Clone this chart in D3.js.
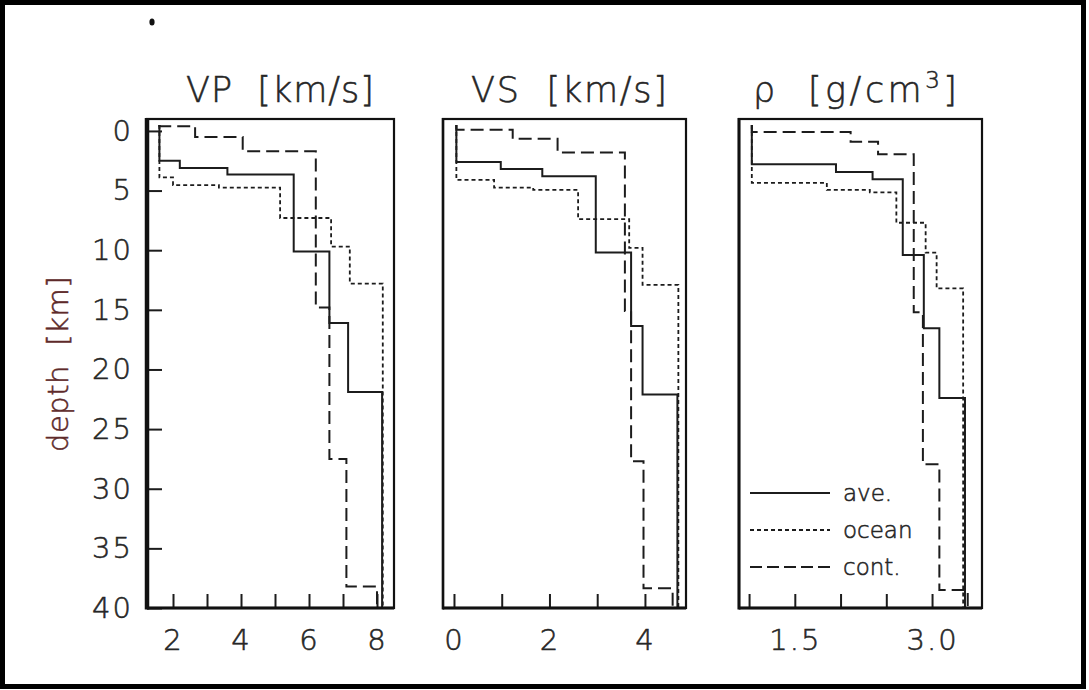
<!DOCTYPE html>
<html>
<head>
<meta charset="utf-8">
<script src="https://cdn.jsdelivr.net/npm/d3@7"></script>
<style>
  html, body { margin: 0; padding: 0; background: #fff; }
  svg { display: block; }
  .lbl { font-family: "DejaVu Sans", sans-serif; font-weight: 200; fill: #262626; stroke: #262626; stroke-width: 0.55px; }
</style>
</head>
<body>
<svg id="chart" width="1089" height="690"></svg>
<script>
// ---- depth axis (shared by all three panels) ----
const depthDomain = [-1, 40];
const depthTicks = [0, 5, 10, 15, 20, 25, 30, 35, 40];
const surfaceDepth = -0.5;
const bottomDepth = 40;

// ---- panel titles and x ticks ----
const panelTitles = ["VP  [km/s]", "VS  [km/s]", "ρ  [g/cm"];
const vpTicks = [2, 3, 4, 5, 6, 7, 8];
const vpTickLabels = [2, 4, 6, 8];
const vsTicks = [0, 1, 2, 3, 4];
const vsTickLabels = [0, 2, 4];
const rhoTicks = [1.0, 1.5, 2.0, 2.5, 3.0];
const rhoTickLabels = [1.5, 3.0];

// ---- layered profiles: interface depths [km] and layer values (one more value than interfaces) ----
// P-wave velocity [km/s]
const vpAveDepth   = [2.5, 3.1, 3.65, 10.1, 16.1, 21.9];
const vpAveValue   = [1.6, 2.2, 3.6, 5.55, 6.6, 7.15, 8.15];
const vpOceanDepth = [3.9, 4.55, 4.75, 7.3, 9.7, 12.8];
const vpOceanValue = [1.6, 2.0, 3.35, 5.15, 6.65, 7.2, 8.17];
const vpContDepth  = [-0.4, 0.5, 1.7, 14.8, 27.5, 38.2];
const vpContValue  = [1.6, 2.65, 4.05, 6.2, 6.6, 7.1, 8.0];
// S-wave velocity [km/s]
const vsAveDepth   = [2.6, 3.2, 3.8, 10.2, 16.35, 22.1];
const vsAveValue   = [0.05, 0.98, 1.85, 2.97, 3.71, 3.95, 4.68];
const vsOceanDepth = [4.1, 4.75, 4.95, 7.4, 9.8, 12.9];
const vsOceanValue = [0.05, 0.84, 1.66, 2.6, 3.67, 3.95, 4.7];
const vsContDepth  = [-0.1, 0.65, 1.8, 15.1, 27.7, 38.35];
const vsContValue  = [0.05, 1.23, 2.17, 3.58, 3.71, 3.97, 4.58];
// density [g/cm^3]
const rhoAveDepth   = [2.8, 3.45, 4.05, 10.4, 16.55, 22.4];
const rhoAveValue   = [1.03, 1.95, 2.35, 2.68, 2.91, 3.08, 3.36];
const rhoOceanDepth = [4.35, 4.95, 5.15, 7.7, 10.2, 13.2];
const rhoOceanValue = [1.03, 1.85, 2.32, 2.61, 2.93, 3.05, 3.34];
const rhoContDepth  = [0.1, 0.9, 1.95, 15.2, 27.95, 38.5];
const rhoContValue  = [1.03, 2.11, 2.41, 2.8, 2.9, 3.08, 3.39];

// ---- legend ----
const legendNames = ["ave.", "ocean", "cont."];

// ---------------------------------------------------------------------
const svg = d3.select("#chart");
const INK = "#1c1c1c";

// outer border
svg.append("rect")
  .attr("x", 2.5).attr("y", 2.5).attr("width", 1081).attr("height", 684)
  .attr("fill", "none").attr("stroke", "#000").attr("stroke-width", 5);

// small ink speck near the top-left
svg.append("ellipse").attr("cx", 152).attr("cy", 22).attr("rx", 2.6).attr("ry", 3.6)
  .attr("fill", "#111");

const plotTop = 119, plotBottom = 608;
const y = d3.scaleLinear().domain(depthDomain).range([plotTop, plotBottom]);

const lineStyles = {
  ave:   { dash: null,    width: 2.0 },
  ocean: { dash: "4 3",   width: 1.8 },
  cont:  { dash: "13 6",  width: 2.0 }
};

const panels = [
  { left: 147, right: 394, domain: [1.235, 8.5], ticks: vpTicks, labels: vpTickLabels, fmt: d3.format("d"),
    series: [["ave", vpAveDepth, vpAveValue], ["ocean", vpOceanDepth, vpOceanValue], ["cont", vpContDepth, vpContValue]],
    leftWidth: 4.5, titleX: 280, titleW: 188 },
  { left: 443, right: 686, domain: [-0.23, 4.86], ticks: vsTicks, labels: vsTickLabels, fmt: d3.format("d"),
    series: [["ave", vsAveDepth, vsAveValue], ["ocean", vsOceanDepth, vsOceanValue], ["cont", vsContDepth, vsContValue]],
    leftWidth: 2.5, titleX: 569, titleW: 196 },
  { left: 739, right: 982, domain: [0.89, 3.546], ticks: rhoTicks, labels: rhoTickLabels, fmt: d3.format(".1f"),
    series: [["ave", rhoAveDepth, rhoAveValue], ["ocean", rhoOceanDepth, rhoOceanValue], ["cont", rhoContDepth, rhoContValue]],
    leftWidth: 3, titleX: 855, titleW: 204 }
];

// turn interfaces + layer values into the vertices of a step profile
function stepPoints(depths, values) {
  const pts = [[values[0], surfaceDepth]];
  depths.forEach((d, i) => {
    pts.push([values[i], d]);
    pts.push([values[i + 1], d]);
  });
  pts.push([values[values.length - 1], bottomDepth]);
  return pts;
}

panels.forEach((p, pi) => {
  const x = d3.scaleLinear().domain(p.domain).range([p.left, p.right]);
  const g = svg.append("g");

  // profiles
  const line = d3.line().x(d => x(d[0])).y(d => y(d[1]));
  p.series.forEach(([key, depths, values]) => {
    const st = lineStyles[key];
    g.append("path")
      .attr("d", line(stepPoints(depths, values)))
      .attr("fill", "none").attr("stroke", INK)
      .attr("stroke-width", st.width)
      .attr("stroke-dasharray", st.dash);
  });

  // x axis: inward ticks, labels on a subset
  const xAxis = d3.axisBottom(x).tickValues(p.ticks).tickSize(-14).tickPadding(21)
    .tickFormat(d => p.labels.some(v => Math.abs(v - d) < 1e-9) ? p.fmt(d) : "");
  const ax = g.append("g").attr("transform", `translate(0,${plotBottom})`).call(xAxis);
  ax.select(".domain").remove();
  ax.selectAll(".tick line").attr("stroke", INK).attr("stroke-width", 2);
  ax.selectAll(".tick text").attr("class", "lbl").attr("font-size", 29).attr("letter-spacing", 2);

  // depth axis only on the first panel
  if (pi === 0) {
    const yAxis = d3.axisLeft(y).tickValues(depthTicks).tickSize(-15).tickPadding(14).tickFormat(d3.format("d"));
    const ay = g.append("g").attr("transform", `translate(${p.left},0)`).call(yAxis);
    ay.select(".domain").remove();
    ay.selectAll(".tick line").attr("stroke", INK).attr("stroke-width", 2);
    ay.selectAll(".tick text").attr("class", "lbl").attr("font-size", 29).attr("letter-spacing", 2);
  }

  // frame
  g.append("rect")
    .attr("x", p.left).attr("y", plotTop).attr("width", p.right - p.left).attr("height", plotBottom - plotTop)
    .attr("fill", "none").attr("stroke", "#111").attr("stroke-width", 2.2);
  g.append("line").attr("x1", p.left).attr("x2", p.left).attr("y1", plotTop - 1).attr("y2", plotBottom + 1.5)
    .attr("stroke", "#111").attr("stroke-width", p.leftWidth);
  g.append("line").attr("x1", p.left).attr("x2", p.right).attr("y1", plotBottom).attr("y2", plotBottom)
    .attr("stroke", "#111").attr("stroke-width", 3);

  // title
  const t = svg.append("text").attr("class", "lbl")
    .attr("x", p.titleX).attr("y", 102)
    .attr("text-anchor", "middle").attr("font-size", 35)
    .attr("textLength", p.titleW).attr("lengthAdjust", "spacing")
    .attr("xml:space", "preserve");
  if (pi < 2) {
    t.text(panelTitles[pi]);
  } else {
    t.append("tspan").text(panelTitles[2]);
    t.append("tspan").text("3").attr("font-size", 23).attr("dy", -14);
    t.append("tspan").text("]").attr("dy", 14);
  }

  // legend inside the density panel
  if (pi === 2) {
    const lg = g.append("g");
    legendNames.forEach((name, i) => {
      const key = ["ave", "ocean", "cont"][i];
      const st = lineStyles[key];
      const ly = 493 + i * 37;
      lg.append("line").attr("x1", 750).attr("x2", 830).attr("y1", ly).attr("y2", ly)
        .attr("stroke", INK).attr("stroke-width", st.width).attr("stroke-dasharray", key === "cont" ? "12 5" : st.dash);
      lg.append("text").attr("class", "lbl").attr("x", 843).attr("y", ly + 8)
        .attr("font-size", 23).text(name);
    });
  }
});

// depth axis title
svg.append("text").attr("class", "lbl")
  .attr("transform", "translate(68,364) rotate(-90)")
  .attr("text-anchor", "middle").attr("font-size", 29).attr("letter-spacing", 0.5)
  .attr("xml:space", "preserve")
  .style("fill", "#5e2a2a").style("stroke", "#5e2a2a")
  .text("depth  [km]");
</script>
</body>
</html>
